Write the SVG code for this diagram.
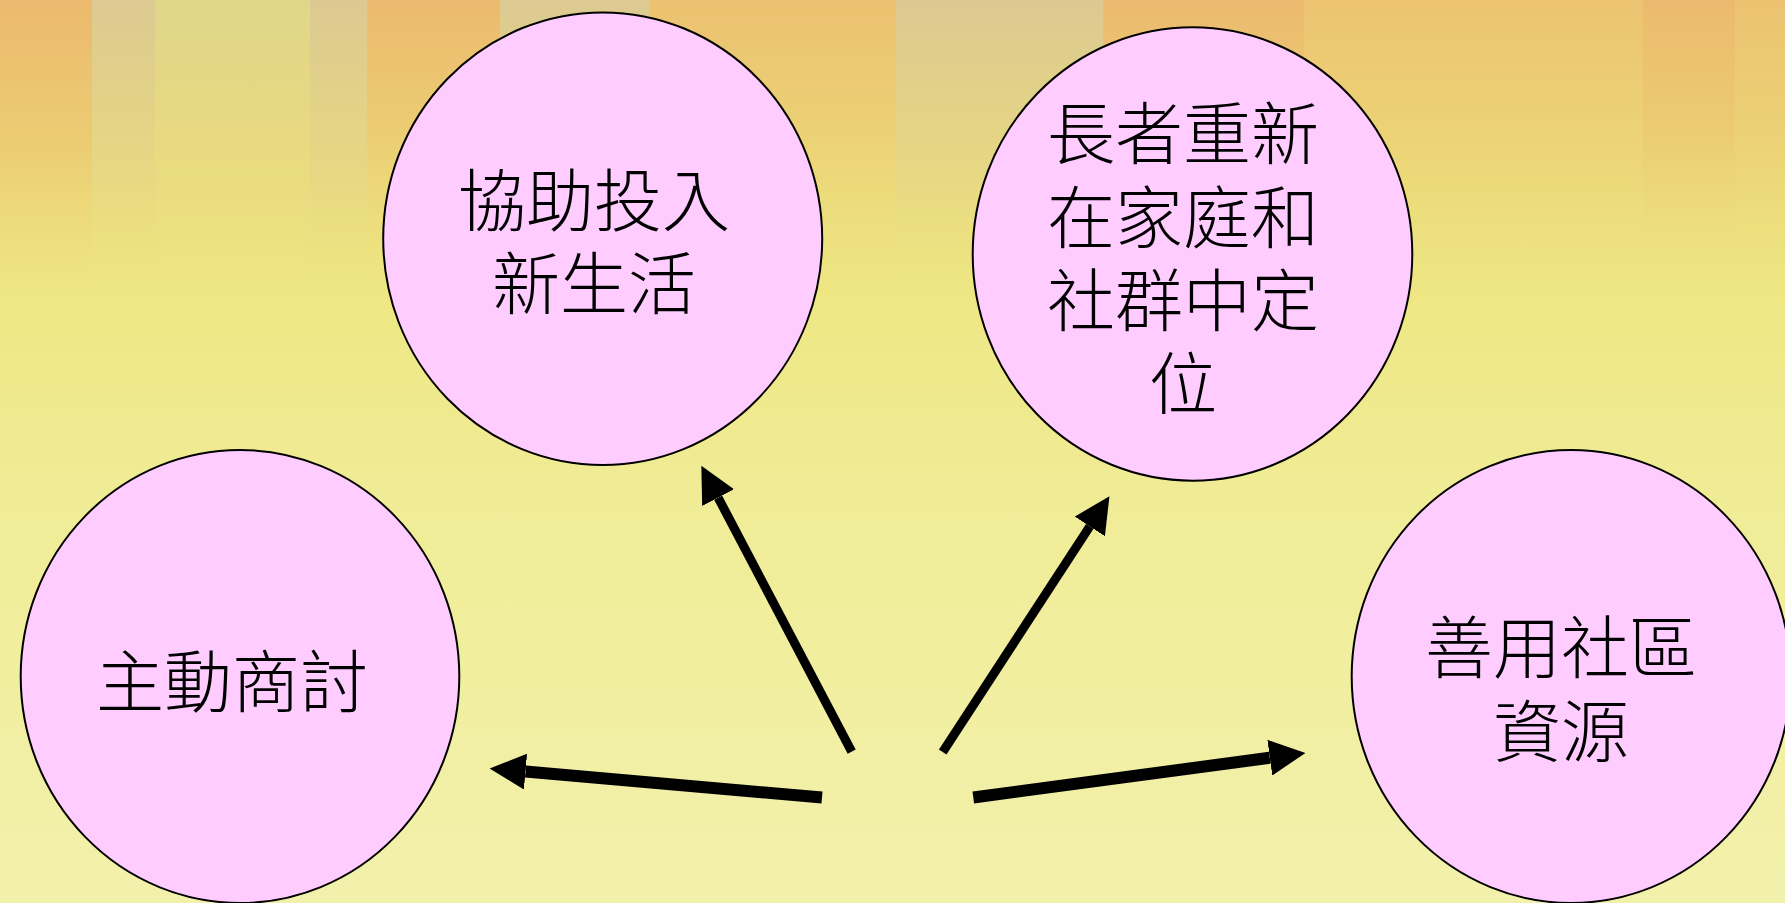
<svg xmlns="http://www.w3.org/2000/svg" width="1785" height="903" viewBox="0 0 1785 903">
  <defs>
    <linearGradient id="bg" x1="0" y1="0" x2="0" y2="1">
      <stop offset="0" stop-color="#ECCB74"/>
      <stop offset="0.18" stop-color="#ECD878"/>
      <stop offset="0.33" stop-color="#EEE784"/>
      <stop offset="0.55" stop-color="#F0EC96"/>
      <stop offset="1" stop-color="#F2F1AC"/>
    </linearGradient>
    <linearGradient id="sOrange" x1="0" y1="0" x2="0" y2="1">
      <stop offset="0" stop-color="#ECB46C" stop-opacity="0.75"/>
      <stop offset="0.5" stop-color="#EBC06E" stop-opacity="0.45"/>
      <stop offset="1" stop-color="#EEE07E" stop-opacity="0"/>
    </linearGradient>
    <linearGradient id="sGrey" x1="0" y1="0" x2="0" y2="1">
      <stop offset="0" stop-color="#D6C99C" stop-opacity="0.75"/>
      <stop offset="0.55" stop-color="#DCD594" stop-opacity="0.4"/>
      <stop offset="1" stop-color="#E8E488" stop-opacity="0"/>
    </linearGradient>
    <linearGradient id="sGreen" x1="0" y1="0" x2="0" y2="1">
      <stop offset="0" stop-color="#DCDA92" stop-opacity="0.75"/>
      <stop offset="0.6" stop-color="#E2E08C" stop-opacity="0.35"/>
      <stop offset="1" stop-color="#EAE688" stop-opacity="0"/>
    </linearGradient>
    <marker id="head" markerUnits="userSpaceOnUse" markerWidth="36" markerHeight="36" refX="0" refY="18" orient="auto" viewBox="0 0 36 36">
      <path d="M0,0 L36,18 L0,36 Z" fill="#000"/>
    </marker>
  </defs>
  <style>
    .node ellipse { fill: #FFCCFF; stroke: #000; stroke-width: 2; }
    .node text { font-family: "Noto Sans CJK TC", "Noto Sans CJK SC", sans-serif; font-size: 68px; font-weight: 300; fill: #000; text-anchor: middle; }
    .conn line { stroke: #000; stroke-linecap: butt; marker-end: url(#head); }
  </style>

  <g id="background">
    <rect x="0" y="0" width="1785" height="903" fill="url(#bg)"/>
    <rect x="0" y="0" width="92" height="300" fill="url(#sOrange)"/>
    <rect x="92" y="0" width="63" height="290" fill="url(#sGrey)"/>
    <rect x="155" y="0" width="155" height="300" fill="url(#sGreen)"/>
    <rect x="310" y="0" width="57" height="300" fill="url(#sGrey)"/>
    <rect x="367" y="0" width="133" height="260" fill="url(#sOrange)"/>
    <rect x="500" y="0" width="150" height="260" fill="url(#sGrey)"/>
    <rect x="650" y="0" width="246" height="240" fill="url(#sOrange)" opacity="0.6"/>
    <rect x="896" y="0" width="207" height="300" fill="url(#sGrey)"/>
    <rect x="1103" y="0" width="201" height="260" fill="url(#sOrange)"/>
    <rect x="1304" y="0" width="339" height="240" fill="url(#sOrange)" opacity="0.45"/>
    <rect x="1643" y="0" width="92" height="270" fill="url(#sOrange)"/>
    <rect x="1735" y="0" width="50" height="260" fill="url(#sOrange)" opacity="0.5"/>
  </g>

  <g id="conn" class="conn">
    <line x1="851.7" y1="751.7" x2="718.1" y2="497.6" stroke-width="9"/>
    <line x1="942.7" y1="752" x2="1089.8" y2="526.4" stroke-width="9"/>
    <line x1="822" y1="797.5" x2="525.5" y2="771.6" stroke-width="12"/>
    <line x1="973.3" y1="797.5" x2="1269.8" y2="757.7" stroke-width="12"/>
  </g>

  <g id="node-help" class="node">
    <ellipse cx="602.7" cy="238.7" rx="219.5" ry="226.3"/>
    <text x="594" y="226"><tspan x="594" y="226">協助投入</tspan><tspan x="594" y="309">新生活</tspan></text>
  </g>

  <g id="node-elder" class="node">
    <ellipse cx="1192.5" cy="254" rx="219.8" ry="226.7"/>
    <text x="1183" y="159"><tspan x="1183" y="159">長者重新</tspan><tspan x="1183" y="242.5">在家庭和</tspan><tspan x="1183" y="326">社群中定</tspan><tspan x="1183" y="409">位</tspan></text>
  </g>

  <g id="node-discuss" class="node">
    <ellipse cx="240" cy="676.5" rx="219.3" ry="226.5"/>
    <text x="232" y="706.5">主動商討</text>
  </g>

  <g id="node-resource" class="node">
    <ellipse cx="1571.2" cy="676.5" rx="219.5" ry="226.5"/>
    <text x="1561" y="673"><tspan x="1561" y="673">善用社區</tspan><tspan x="1561" y="757">資源</tspan></text>
  </g>
</svg>
